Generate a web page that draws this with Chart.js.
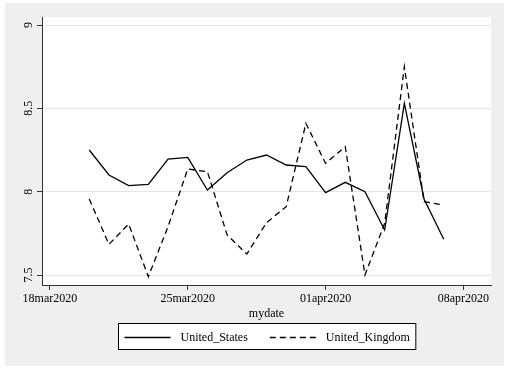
<!DOCTYPE html>
<html>
<head>
<meta charset="utf-8">
<script src="https://cdn.jsdelivr.net/npm/chart.js@4.4.0/dist/chart.umd.min.js"></script>
<style>
  html, body { margin: 0; padding: 0; background: #fff; }
</style>
</head>
<body>
<canvas id="chart" width="509" height="371"></canvas>
<script>
// daily values, 20mar2020 - 07apr2020
const dates = [
    '2020-03-20', '2020-03-21', '2020-03-22', '2020-03-23', '2020-03-24',
    '2020-03-25', '2020-03-26', '2020-03-27', '2020-03-28', '2020-03-29',
    '2020-03-30', '2020-03-31', '2020-04-01', '2020-04-02', '2020-04-03',
    '2020-04-04', '2020-04-05', '2020-04-06', '2020-04-07'
];
const unitedStates = [8.25, 8.10, 8.036, 8.044, 8.196, 8.206, 8.01, 8.114, 8.19, 8.22,
    8.16, 8.15, 7.994, 8.056, 8.0, 7.77, 8.53, 7.956, 7.714];
const unitedKingdom = [7.956, 7.684, 7.806, 7.49, 7.79, 8.136, 8.12, 7.74, 7.626, 7.814,
    7.91, 8.41, 8.17, 8.27, 7.50, 7.81, 8.75, 7.94, 7.92];

// axis ticks
const tickDates = ['2020-03-18', '2020-03-25', '2020-04-01', '2020-04-08'];
const tickLabels = ['18mar2020', '25mar2020', '01apr2020', '08apr2020'];
const yTicks = [7.5, 8, 8.5, 9];

const day0 = Date.parse('2020-03-18');
function dayNum(s) {
    return (Date.parse(s) - day0) / 86400000;
}
function toPoints(values) {
    return values.map((v, i) => ({ x: dayNum(dates[i]), y: v }));
}

const FONT = "12px 'Liberation Serif', 'Times New Roman', serif";
Chart.defaults.font.family = "'Liberation Serif', 'Times New Roman', serif";
Chart.defaults.font.size = 12;
Chart.defaults.color = '#000';

// gray outer frame + white plot region
const background = {
    id: 'background',
    beforeDraw(chart) {
        const { ctx, chartArea: a } = chart;
        ctx.save();
        ctx.fillStyle = '#fff';
        ctx.fillRect(0, 0, chart.width, chart.height);
        ctx.fillStyle = '#efefef';
        ctx.fillRect(5, 3, chart.width - 10, chart.height - 8);
        ctx.fillStyle = '#fff';
        ctx.fillRect(a.left, a.top, a.right - a.left, a.bottom - a.top);
        ctx.restore();
    }
};

// y labels read bottom to top, like Stata
const verticalYLabels = {
    id: 'verticalYLabels',
    afterDraw(chart) {
        const { ctx } = chart;
        const scale = chart.scales.y;
        ctx.save();
        ctx.font = FONT;
        ctx.fillStyle = '#000';
        ctx.textAlign = 'center';
        ctx.textBaseline = 'middle';
        yTicks.forEach(v => {
            ctx.save();
            ctx.translate(scale.right - 13, scale.getPixelForValue(v));
            ctx.rotate(-Math.PI / 2);
            ctx.fillText(String(v), 0, 0);
            ctx.restore();
        });
        ctx.restore();
    }
};

// boxed legend under the axis title
const boxLegend = {
    id: 'boxLegend',
    afterDraw(chart) {
        const { ctx, chartArea: a } = chart;
        const lineLen = 46, gap = 10, spacing = 22, padX = 6;
        const sets = chart.data.datasets;
        ctx.save();
        ctx.font = FONT;
        const widths = sets.map(d => ctx.measureText(d.label).width);
        let total = padX * 2 + spacing * (sets.length - 1);
        widths.forEach(w => { total += lineLen + gap + w; });
        const cx = (a.left + a.right) / 2;
        const left = Math.round(cx - total / 2) + 0.5;
        const top = 323.5, h = 26;
        ctx.fillStyle = '#fff';
        ctx.fillRect(left, top, total, h);
        ctx.strokeStyle = '#000';
        ctx.lineWidth = 1;
        ctx.strokeRect(left, top, total, h);
        const y = top + h / 2 + 1;
        let x = left + padX;
        sets.forEach((d, i) => {
            ctx.beginPath();
            ctx.setLineDash(d.borderDash || []);
            ctx.lineWidth = d.borderWidth;
            ctx.strokeStyle = d.borderColor;
            ctx.moveTo(x, y);
            ctx.lineTo(x + lineLen, y);
            ctx.stroke();
            ctx.setLineDash([]);
            x += lineLen + gap;
            ctx.fillStyle = '#000';
            ctx.textBaseline = 'middle';
            ctx.textAlign = 'left';
            ctx.fillText(d.label, x, y);
            x += widths[i] + spacing;
        });
        ctx.restore();
    }
};

const ctx = document.getElementById('chart').getContext('2d');
const chart = new Chart(ctx, {
    type: 'line',
    data: {
        datasets: [{
            label: 'United_States',
            data: toPoints(unitedStates),
            borderColor: '#000',
            borderWidth: 1.3,
            pointRadius: 0,
            tension: 0
        }, {
            label: 'United_Kingdom',
            data: toPoints(unitedKingdom),
            borderColor: '#000',
            borderWidth: 1.3,
            borderDash: [6, 4],
            pointRadius: 0,
            tension: 0
        }]
    },
    options: {
        responsive: false,
        devicePixelRatio: 1,
        animation: false,
        layout: { padding: { left: 0, top: 17, right: 18, bottom: 50 } },
        plugins: {
            legend: { display: false },
            tooltip: { enabled: false }
        },
        scales: {
            x: {
                type: 'linear',
                min: -0.4,
                max: 22.4,
                afterBuildTicks: (scale) => {
                    scale.ticks = tickDates.map(d => ({ value: dayNum(d) }));
                },
                afterFit: (scale) => { scale.height = 36; },
                ticks: {
                    padding: 2,
                    maxRotation: 0,
                    autoSkip: false,
                    callback: (v) => tickLabels[tickDates.findIndex(d => dayNum(d) === v)]
                },
                grid: { drawOnChartArea: false, tickLength: 5, tickColor: '#333' },
                border: { color: '#333', width: 1 },
                title: { display: true, text: 'mydate', padding: { top: 0, bottom: 0 } }
            },
            y: {
                min: 7.44,
                max: 9.048,
                afterBuildTicks: (scale) => {
                    scale.ticks = yTicks.map(v => ({ value: v }));
                },
                afterFit: (scale) => { scale.width = 42; },
                ticks: { display: false },
                grid: { color: '#e6e6e6', tickLength: 5, tickColor: '#333' },
                border: { color: '#333', width: 1 }
            }
        }
    },
    plugins: [background, verticalYLabels, boxLegend]
});
</script>
</body>
</html>
